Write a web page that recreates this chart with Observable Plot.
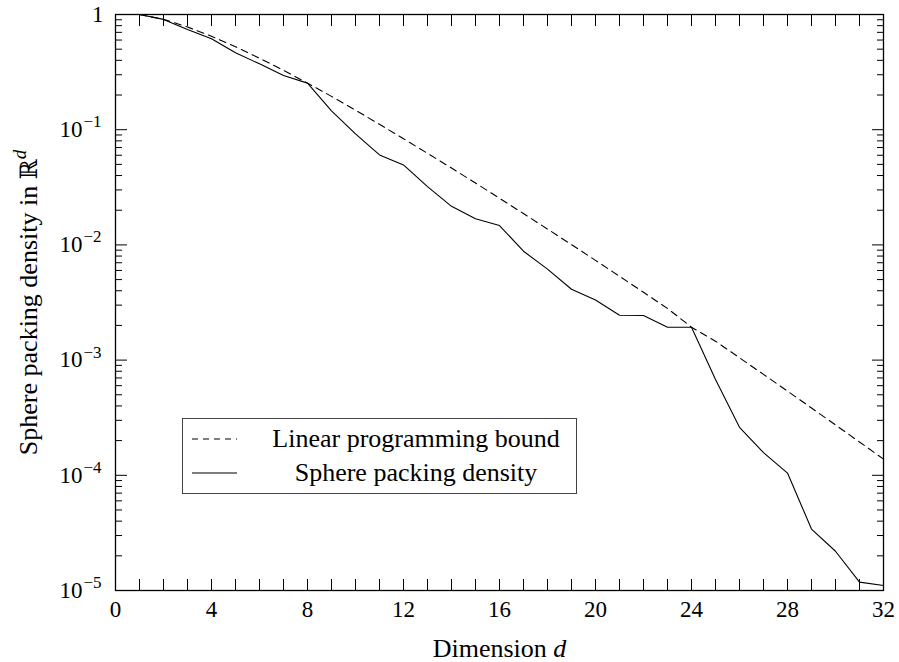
<!DOCTYPE html>
<html>
<head>
<meta charset="utf-8">
<script src="https://cdn.jsdelivr.net/npm/d3@7"></script>
<script src="https://cdn.jsdelivr.net/npm/@observablehq/plot@0.6"></script>
<style>
  html, body { margin: 0; padding: 0; background: #fff; }
  #wrap { position: relative; width: 899px; height: 662px; font-family: "Liberation Serif", "Times New Roman", serif; }
  #legend { position: absolute; left: 182px; top: 418px; width: 393px; height: 74px; border: 1.3px solid #444; background: #fff; box-sizing: content-box; }
  .row { position: absolute; left: 0; width: 100%; height: 34px; font-size: 26px; line-height: 34px; color: #000; }
  .row svg { position: absolute; left: 8px; top: 0; }
  .row span { position: absolute; left: 86px; width: 294px; text-align: center; white-space: nowrap; }
</style>
</head>
<body>
<div id="wrap"></div>
<script>
// Dimensions d
const dims = [1,2,3,4,5,6,7,8,9,10,11,12,13,14,15,16,17,18,19,20,21,22,23,24,25,26,27,28,29,30,31,32];
// Best known sphere packing density in R^d
const packingDensity = [1, 0.9069, 0.7405, 0.6169, 0.4653, 0.3729, 0.2953, 0.2537, 0.1458, 0.09202,
  0.06043, 0.04945, 0.03201, 0.02162, 0.01686, 0.01471, 0.008811, 0.006167, 0.004120, 0.003327,
  0.002450, 0.002438, 0.001930, 0.001929, 0.0006772, 0.0002609, 0.0001575, 0.0001046, 0.00003414,
  0.00002191, 0.00001183, 0.00001104];
// Linear programming bound
const lpBound = [1, 0.9069, 0.7797, 0.6477, 0.5250, 0.4177, 0.3275, 0.2537, 0.1946, 0.1476,
  0.1113, 0.08354, 0.06240, 0.04643, 0.03441, 0.02541, 0.01871, 0.01373, 0.01005, 0.007338,
  0.005340, 0.003877, 0.002807, 0.001930, 0.001459, 0.001048, 0.0007514, 0.0005376, 0.0003839,
  0.0002736, 0.0001946, 0.0001381];

const xTickLabels = [0, 4, 8, 12, 16, 20, 24, 28, 32];
const yDecadeExponents = [0, -1, -2, -3, -4, -5];
const seriesNames = ["Linear programming bound", "Sphere packing density"];

const table = dims.map((d, i) => ({d, sp: packingDensity[i], lp: lpBound[i]}));
const xTickMarks = d3.range(0, 33);
const yDecades = yDecadeExponents.map(e => Math.pow(10, e));
const yMinor = [];
for (const e of [-5, -4, -3, -2, -1]) for (let m = 2; m <= 9; m++) yMinor.push(m * Math.pow(10, e));

const blank = () => "";

const chart = Plot.plot({
  width: 899,
  height: 662,
  marginLeft: 115,
  marginRight: 16,
  marginTop: 14,
  marginBottom: 72,
  x: {domain: [0, 32]},
  y: {type: "log", domain: [1e-5, 1]},
  style: {fontFamily: "'Liberation Serif', 'Times New Roman', serif", fontSize: "23px", color: "#000", background: "#fff"},
  marks: [
    Plot.frame({stroke: "#000", strokeWidth: 1.3}),
    Plot.axisX({ticks: xTickLabels, tickSize: 0, tickPadding: 10, fontSize: 23, label: null}),
    Plot.axisX({ticks: xTickMarks, tickSize: -11, tickFormat: blank, label: null}),
    Plot.axisX({anchor: "top", ticks: xTickMarks, tickSize: -11, tickFormat: blank, label: null}),
    Plot.axisY({ticks: yDecades, tickSize: -12, tickFormat: blank, label: null}),
    Plot.axisY({ticks: yMinor, tickSize: -7, tickFormat: blank, label: null}),
    Plot.axisY({anchor: "right", ticks: yDecades, tickSize: -12, tickFormat: blank, label: null}),
    Plot.axisY({anchor: "right", ticks: yMinor, tickSize: -7, tickFormat: blank, label: null}),
    // y tick labels
    Plot.text(yDecadeExponents.filter(e => e === 0), {y: e => Math.pow(10, e), frameAnchor: "left", text: () => "1", textAnchor: "end", dx: -12, fontSize: 23}),
    Plot.text(yDecadeExponents.filter(e => e !== 0), {y: e => Math.pow(10, e), frameAnchor: "left", text: () => "10", textAnchor: "end", dx: -33, fontSize: 23}),
    Plot.text(yDecadeExponents.filter(e => e !== 0), {y: e => Math.pow(10, e), frameAnchor: "left", text: e => "\u2212" + (-e), textAnchor: "start", dx: -32, dy: -8, fontSize: 17}),
    // series
    Plot.line(table, {x: "d", y: "lp", stroke: "#000", strokeWidth: 1.1, strokeDasharray: "7,5"}),
    Plot.line(table, {x: "d", y: "sp", stroke: "#000", strokeWidth: 1.1}),
    // axis labels
    Plot.text(["Dimension d"], {frameAnchor: "bottom", textAnchor: "middle", dy: 66, fontSize: 26}),
    Plot.text(["Sphere packing density in Rd"], {frameAnchor: "left", textAnchor: "middle", lineAnchor: "middle", rotate: -90, dx: -87, fontSize: 26})
  ]
});

// rich-text formatting of axis labels
d3.select(chart).selectAll("text").each(function () {
  const t = d3.select(this);
  const s = this.textContent;
  if (s === "Dimension d") {
    t.text("Dimension ");
    t.append("tspan").attr("font-style", "italic").text("d");
  } else if (s === "Sphere packing density in Rd") {
    t.text("Sphere packing density in ");
    t.append("tspan").attr("font-family", "'DejaVu Serif', serif").attr("font-size", 24).text("\u211D");
    t.append("tspan").attr("font-style", "italic").attr("font-size", 19).attr("dy", "-0.55em").text("d");
  }
});

const wrap = document.getElementById("wrap");
wrap.appendChild(chart);

// legend
const legend = document.createElement("div");
legend.id = "legend";
seriesNames.forEach((name, i) => {
  const row = document.createElement("div");
  row.className = "row";
  row.style.top = (3 + i * 34) + "px";
  row.innerHTML = `<svg width="48" height="34"><line x1="1" x2="46" y1="17" y2="17" stroke="#000" stroke-width="1.1" ${i === 0 ? 'stroke-dasharray="6,5"' : ''}/></svg><span>${name}</span>`;
  legend.appendChild(row);
});
wrap.appendChild(legend);
</script>
</body>
</html>
